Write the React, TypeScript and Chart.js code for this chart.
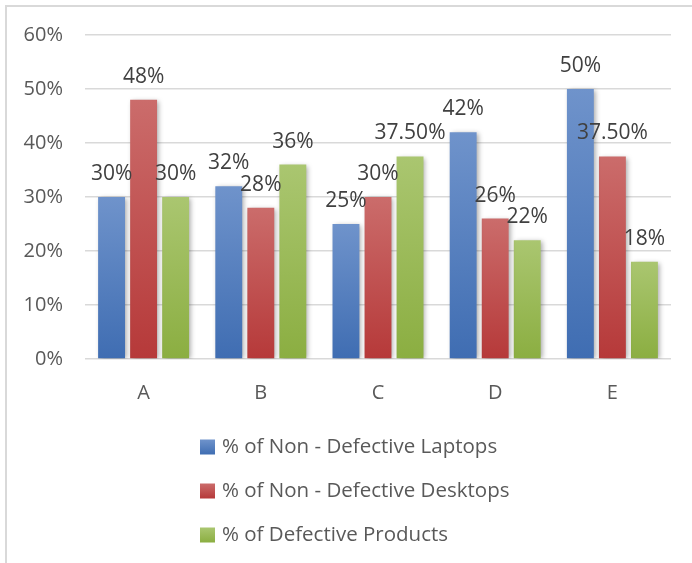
import React, { useEffect, useRef } from "react";
import { Chart, registerables } from "chart.js";

Chart.register(...registerables);

const categories = ["A", "B", "C", "D", "E"];
const seriesNames = [
  "% of Non - Defective Laptops",
  "% of Non - Defective Desktops",
  "% of Defective Products",
];
const laptops = [30, 32, 25, 42, 50];
const desktops = [48, 28, 30, 26, 37.5];
const defective = [30, 36, 37.5, 22, 18];
const yTicks = [0, 10, 20, 30, 40, 50, 60];

const topColors = ["#6f93cb", "#cb6c6b", "#aac670"];
const bottomColors = ["#3f6db2", "#b63939", "#8bae41"];

const FONT = "'Open Sans', 'Liberation Sans', sans-serif";

function fmt(v: number) {
  return Number.isInteger(v) ? v + "%" : v.toFixed(2) + "%";
}

function barFill(idx: number) {
  return (ctx: any) => {
    const chart = ctx.chart;
    const ys = chart.scales && chart.scales.y;
    if (!ys || ctx.parsed == null) return topColors[idx];
    const top = ys.getPixelForValue(ctx.parsed.y);
    const bottom = ys.getPixelForValue(0);
    if (!isFinite(top) || !isFinite(bottom) || top === bottom) return topColors[idx];
    const g = chart.ctx.createLinearGradient(0, top, 0, bottom);
    g.addColorStop(0, topColors[idx]);
    g.addColorStop(1, bottomColors[idx]);
    return g;
  };
}

const shadowPlugin = {
  id: "barShadow",
  beforeDatasetDraw(chart: any) {
    const c = chart.ctx;
    c.save();
    c.shadowColor = "rgba(0,0,0,0.35)";
    c.shadowBlur = 5;
    c.shadowOffsetX = 2;
    c.shadowOffsetY = 1;
  },
  afterDatasetDraw(chart: any) {
    chart.ctx.restore();
  },
};

const labelPlugin = {
  id: "valueLabels",
  afterDatasetsDraw(chart: any) {
    const c = chart.ctx;
    c.save();
    c.font = `21px ${FONT}`;
    c.fillStyle = "#404040";
    c.textAlign = "center";
    c.textBaseline = "middle";
    chart.data.datasets.forEach((ds: any, i: number) => {
      const meta = chart.getDatasetMeta(i);
      meta.data.forEach((el: any, j: number) => {
        c.fillText(fmt(ds.data[j]), el.x, el.y - 23);
      });
    });
    c.restore();
  },
};

const legendPlugin = {
  id: "vertLegend",
  afterDraw(chart: any) {
    const c = chart.ctx;
    const area = chart.chartArea;
    c.save();
    c.font = `20.5px ${FONT}`;
    c.textBaseline = "middle";
    c.textAlign = "left";
    chart.data.datasets.forEach((ds: any, i: number) => {
      const cy = area.bottom + 88 + i * 44;
      const x = 200;
      const g = c.createLinearGradient(0, cy - 7.5, 0, cy + 7.5);
      g.addColorStop(0, topColors[i]);
      g.addColorStop(1, bottomColors[i]);
      c.fillStyle = g;
      c.fillRect(x, cy - 7.5, 15, 15);
      c.fillStyle = "#595959";
      c.fillText(ds.label, x + 22, cy);
    });
    c.restore();
  },
};

export default function App() {
  const ref = useRef<HTMLCanvasElement | null>(null);
  useEffect(() => {
    if (!ref.current) return;
    const series = [laptops, desktops, defective];
    const chart = new Chart(ref.current, {
      type: "bar",
      data: {
        labels: categories,
        datasets: series.map((d, i) => ({
          label: seriesNames[i],
          data: d,
          backgroundColor: barFill(i),
          borderWidth: 0,
          categoryPercentage: 0.82,
          barPercentage: 0.84,
        })),
      },
      options: {
        responsive: false,
        animation: false,
        devicePixelRatio: 1,
        layout: { padding: { left: 0, top: 35, right: 21, bottom: 154 } },
        plugins: {
          legend: { display: false },
          tooltip: { enabled: false },
        },
        scales: {
          y: {
            min: 0,
            max: 60,
            afterBuildTicks: (s: any) => {
              s.ticks = yTicks.map((v) => ({ value: v }));
            },
            afterFit: (s: any) => {
              s.width = 85;
            },
            ticks: {
              callback: (v: any) => v + "%",
              font: { family: FONT, size: 20 },
              color: "#595959",
              padding: 22,
            },
            grid: { color: "#d9d9d9", lineWidth: 1.5, drawTicks: false },
            border: { display: false },
          },
          x: {
            afterFit: (s: any) => {
              s.height = 50;
            },
            ticks: {
              font: { family: FONT, size: 20 },
              color: "#595959",
              padding: 22,
            },
            grid: { display: false, drawTicks: false },
            border: { display: false },
          },
        },
      },
      plugins: [shadowPlugin, labelPlugin, legendPlugin],
    });
    return () => chart.destroy();
  }, []);

  return (
    <div style={{ position: "fixed", left: 0, top: 0, width: 692, height: 563, background: "#fff", overflow: "hidden" }}>
      <div
        style={{
          position: "absolute",
          left: 5,
          top: 5,
          width: 720,
          height: 600,
          borderLeft: "2px solid #d9d9d9",
          borderTop: "2px solid #d9d9d9",
        }}
      />
      <canvas ref={ref} width={692} height={563} style={{ position: "absolute", left: 0, top: 0 }} />
    </div>
  );
}
